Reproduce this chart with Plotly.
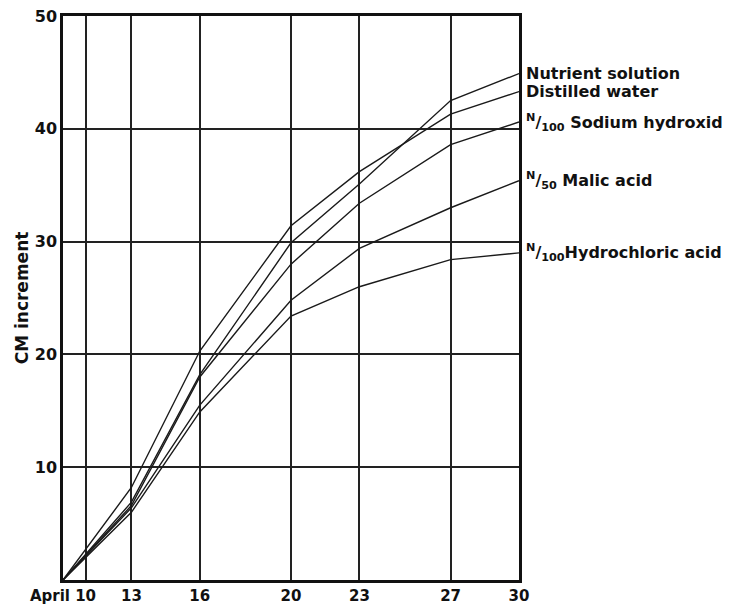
import plotly.graph_objects as go

# days in April
days = [10, 13, 16, 20, 23, 27, 30]

nutrient = [0, 6.9, 18.2, 29.9, 35.1, 42.5, 44.9]
distilled = [0, 8.2, 20.3, 31.4, 36.2, 41.3, 43.3]
sodium = [0, 6.6, 18.0, 28.0, 33.4, 38.6, 40.6]
malic = [0, 6.4, 15.5, 24.8, 29.4, 33.0, 35.4]
hydrochloric = [0, 6.0, 14.9, 23.4, 26.0, 28.4, 29.0]

series = [
    ("Nutrient solution", nutrient),
    ("Distilled water", distilled),
    ("<sup>N</sup>/<sub>100</sub> Sodium hydroxid", sodium),
    ("<sup>N</sup>/<sub>50</sub> Malic acid", malic),
    ("<sup>N</sup>/<sub>100</sub>Hydrochloric acid", hydrochloric),
]

x_grid = [10, 11, 13, 16, 20, 23, 27, 30]
x_labels = ["April 10", "", "13", "16", "20", "23", "27", "30"]
y_ticks = [10, 20, 30, 40, 50]

FONT = "DejaVu Sans"

fig = go.Figure()
for name, vals in series:
    fig.add_trace(go.Scatter(x=days, y=vals, mode="lines", name=name,
                             line=dict(color="#1a1a1a", width=1.4)))
    fig.add_annotation(x=days[-1], y=vals[-1], text="<b>" + name + "</b>",
                       xanchor="left", yanchor="middle", xshift=5, showarrow=False,
                       font=dict(family=FONT, size=16, color="#111"))

# page body has an 8px margin, so the figure is shrunk by that much
fig.update_layout(
    width=724, height=599,
    margin=dict(l=55, r=213, t=8, b=27),
    paper_bgcolor="white", plot_bgcolor="white",
    showlegend=False,
    font=dict(family=FONT, color="#111"),
)
fig.update_xaxes(
    range=[10, 30], tickvals=x_grid, ticktext=["<b>%s</b>" % t for t in x_labels],
    showgrid=True, gridcolor="#222", gridwidth=1.6, zeroline=False,
    showline=True, linecolor="#111", linewidth=2.5, mirror=True,
    ticks="", tickangle=0, automargin=False, ticklabeloverflow="allow",
    tickfont=dict(size=15, family=FONT, color="#111"),
)
fig.update_yaxes(
    range=[0, 50], tickvals=y_ticks, ticktext=["<b>%d</b>" % v for v in y_ticks],
    showgrid=True, gridcolor="#222", gridwidth=1.6, zeroline=False,
    showline=True, linecolor="#111", linewidth=2.5, mirror=True,
    ticks="", automargin=False, ticklabeloverflow="allow",
    tickfont=dict(size=16, family=FONT, color="#111"),
    title=dict(text="<b>CM increment</b>", font=dict(size=17, family=FONT, color="#111"), standoff=2),
)

fig.write_html("out.html")
